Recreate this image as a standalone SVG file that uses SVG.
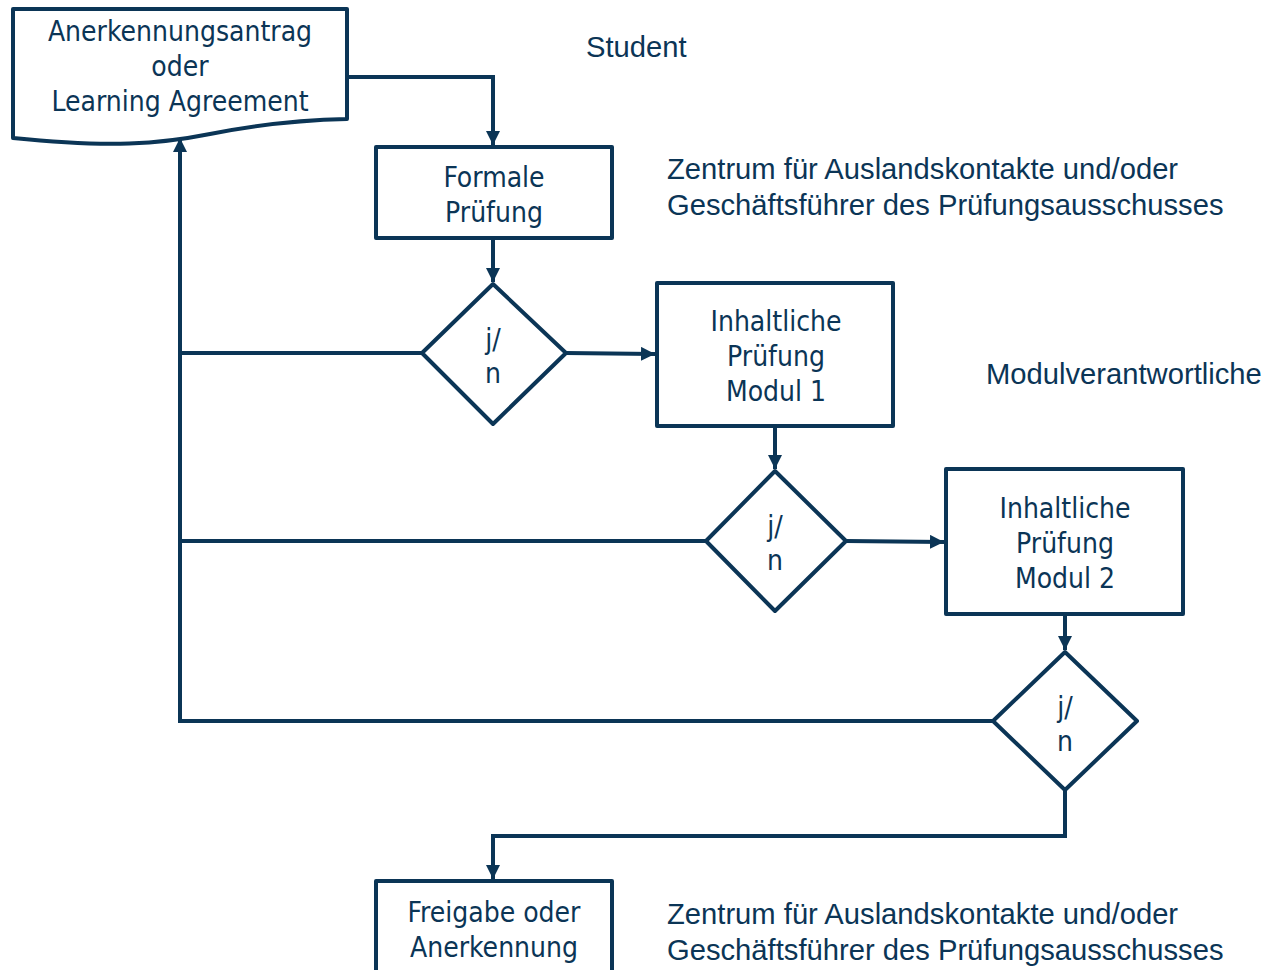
<svg xmlns="http://www.w3.org/2000/svg" width="1266" height="970" viewBox="0 0 1266 970">
<defs>
<marker id="ah" markerWidth="14" markerHeight="14" viewBox="0 0 14 14" refX="14" refY="7" orient="auto" markerUnits="userSpaceOnUse">
<path d="M0,0 L14,7 L0,14 Z" fill="#0b3556"/>
</marker>
<style>
.shape{fill:#fff;stroke:#0b3556;stroke-width:4;stroke-linejoin:round}
.line{fill:none;stroke:#0b3556;stroke-width:4}
.nt{font-family:"DejaVu Sans Condensed","DejaVu Sans",sans-serif;font-size:28px;fill:#0b3556;text-anchor:middle}
.lt{font-family:"Liberation Sans",Arial,sans-serif;font-size:29.2px;fill:#0b3556}
</style>
</defs>
<rect width="1266" height="970" fill="#fff"/>
<g id="connectors">
<path class="line" d="M347,77 H493 V145" marker-end="url(#ah)"/>
<path class="line" d="M493,238 V282" marker-end="url(#ah)"/>
<path class="line" d="M566,353 L655,354" marker-end="url(#ah)"/>
<path class="line" d="M775,426 V469" marker-end="url(#ah)"/>
<path class="line" d="M846,541 L944,542" marker-end="url(#ah)"/>
<path class="line" d="M1065,614 V650" marker-end="url(#ah)"/>
<path class="line" d="M1065,790 V836 H493 V879" marker-end="url(#ah)"/>
<path class="line" d="M422,353 H180"/>
<path class="line" d="M706,541 H180"/>
<path class="line" d="M993,721 H180 V138" marker-end="url(#ah)"/>
</g>
<g id="doc">
<path class="shape" d="M13,9 H347 V119 C300,120 260,124 210,134 C160,144 110,148 13,138 Z"/>
<text class="nt" x="180" y="41">Anerkennungsantrag</text>
<text class="nt" x="180" y="76">oder</text>
<text class="nt" x="180" y="111">Learning Agreement</text>
</g>
<g id="formal">
<rect class="shape" x="376" y="147" width="236" height="91"/>
<text class="nt" x="494" y="187">Formale</text>
<text class="nt" x="494" y="222">Prüfung</text>
</g>
<g id="d1">
<polygon class="shape" points="493,284 566,353 493,424 422,353"/>
<text class="nt" x="493" y="349">j/</text>
<text class="nt" x="493" y="383">n</text>
</g>
<g id="m1">
<rect class="shape" x="657" y="283" width="236" height="143"/>
<text class="nt" x="776" y="331">Inhaltliche</text>
<text class="nt" x="776" y="366">Prüfung</text>
<text class="nt" x="776" y="401">Modul 1</text>
</g>
<g id="d2">
<polygon class="shape" points="775,471 846,541 775,611 706,541"/>
<text class="nt" x="775" y="536">j/</text>
<text class="nt" x="775" y="570">n</text>
</g>
<g id="m2">
<rect class="shape" x="946" y="469" width="237" height="145"/>
<text class="nt" x="1065" y="518">Inhaltliche</text>
<text class="nt" x="1065" y="553">Prüfung</text>
<text class="nt" x="1065" y="588">Modul 2</text>
</g>
<g id="d3">
<polygon class="shape" points="1065,652 1137,721 1065,790 993,721"/>
<text class="nt" x="1065" y="717">j/</text>
<text class="nt" x="1065" y="751">n</text>
</g>
<g id="final">
<path class="shape" d="M376,975 V881 H612 V975"/>
<text class="nt" x="494" y="922">Freigabe oder</text>
<text class="nt" x="494" y="957">Anerkennung</text>
</g>
<g id="labels">
<text class="lt" x="586" y="57">Student</text>
<text class="lt" x="667" y="179">Zentrum für Auslandskontakte und/oder</text>
<text class="lt" x="667" y="215">Geschäftsführer des Prüfungsausschusses</text>
<text class="lt" x="986" y="384">Modulverantwortliche</text>
<text class="lt" x="667" y="924">Zentrum für Auslandskontakte und/oder</text>
<text class="lt" x="667" y="960">Geschäftsführer des Prüfungsausschusses</text>
</g>
</svg>
